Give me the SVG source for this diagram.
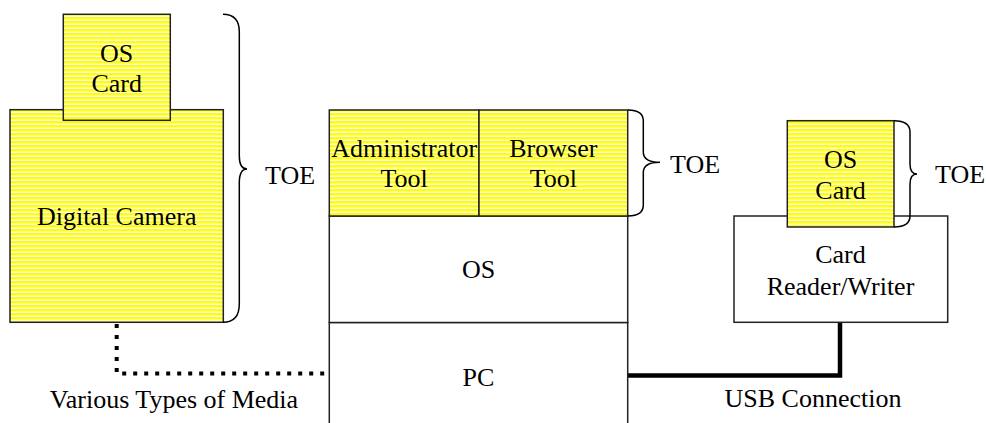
<svg xmlns="http://www.w3.org/2000/svg" width="986" height="423" viewBox="0 0 986 423">
  <defs>
    <!-- yellow / white horizontal hatching used for the TOE parts -->
    <pattern id="stripes" width="4" height="4" patternUnits="userSpaceOnUse">
      <rect width="4" height="4" fill="#ffffff"/>
      <rect y="1" width="4" height="2.5" fill="#ffff00"/>
    </pattern>
    <style>
      text { font-family: "Liberation Serif", "Times New Roman", serif; font-size: 26px; fill: #000; }
      .lbl { text-anchor: middle; }
      .toe { fill: url(#stripes); stroke: #222; stroke-width: 1.5; }
      .plain { fill: #fff; stroke: #222; stroke-width: 1.5; }
      .brace { fill: none; stroke: #000; stroke-width: 1.5; }
      .dotted { fill: none; stroke: #000; stroke-width: 4; stroke-dasharray: 4 7; }
      .usb { fill: none; stroke: #000; stroke-width: 4.5; }
    </style>
  </defs>

  <rect width="986" height="423" fill="#fff"/>

  <!-- connectors -->
  <g id="connectors">
    <path class="dotted" d="M116.7,324 V373.5 H329"/>
    <path class="usb" d="M840,322 V375.5 H628"/>
  </g>

  <!-- digital camera with its card -->
  <g id="digital-camera">
    <rect class="toe" x="10" y="109.7" width="213.3" height="212.6"/>
    <text class="lbl" x="116.7" y="225">Digital Camera</text>
  </g>
  <g id="camera-os-card">
    <rect class="toe" x="63.3" y="14.3" width="107" height="106"/>
    <text class="lbl" x="116.7" y="61.7">OS</text>
    <text class="lbl" x="116.7" y="92.3">Card</text>
  </g>
  <g id="camera-toe">
    <path class="brace" d="M223,14.3 Q239.3,14.3 239.3,32 V156 Q239.3,169 247,169 Q239.3,169 239.3,183 V304 Q239.3,322.3 223,322.3"/>
    <text x="265" y="184">TOE</text>
  </g>

  <!-- PC software stack -->
  <g id="pc">
    <rect class="plain" x="329.3" y="322.5" width="298.4" height="120"/>
    <text class="lbl" x="478.5" y="386">PC</text>
  </g>
  <g id="os">
    <rect class="plain" x="329.3" y="216" width="298.4" height="106.5"/>
    <text class="lbl" x="478.5" y="278.3">OS</text>
  </g>
  <g id="administrator-tool">
    <rect class="toe" x="329.3" y="110" width="149.7" height="106"/>
    <text class="lbl" x="404.2" y="156.7">Administrator</text>
    <text class="lbl" x="404.2" y="187.3">Tool</text>
  </g>
  <g id="browser-tool">
    <rect class="toe" x="479" y="110" width="148.7" height="106"/>
    <text class="lbl" x="553.3" y="156.7">Browser</text>
    <text class="lbl" x="553.3" y="187.3">Tool</text>
  </g>
  <g id="pc-toe">
    <path class="brace" d="M628,110 Q643.3,110 643.3,121 V152 Q643.3,162.3 660,162.3 Q643.3,162.3 643.3,172.6 V205 Q643.3,216 628,216"/>
    <text x="670" y="172.7">TOE</text>
  </g>

  <!-- card reader/writer with its card -->
  <g id="card-reader-writer">
    <rect class="plain" x="734" y="216" width="213.7" height="106.3"/>
    <text class="lbl" x="840.5" y="263.3">Card</text>
    <text class="lbl" x="840.5" y="295">Reader/Writer</text>
  </g>
  <g id="reader-os-card">
    <rect class="toe" x="787.3" y="120.7" width="106.7" height="106.3"/>
    <text class="lbl" x="840.6" y="168.3">OS</text>
    <text class="lbl" x="840.6" y="198.7">Card</text>
  </g>
  <g id="reader-toe">
    <path class="brace" d="M894,120.7 Q910,120.7 910,132 V164 Q910,174 917,174 Q910,174 910,184 V216 Q910,227 894,227"/>
    <text x="935" y="183.3">TOE</text>
  </g>

  <!-- connector labels -->
  <g id="labels">
    <text class="lbl" x="174" y="408.3">Various Types of Media</text>
    <text class="lbl" x="813" y="406.7">USB Connection</text>
  </g>
</svg>
